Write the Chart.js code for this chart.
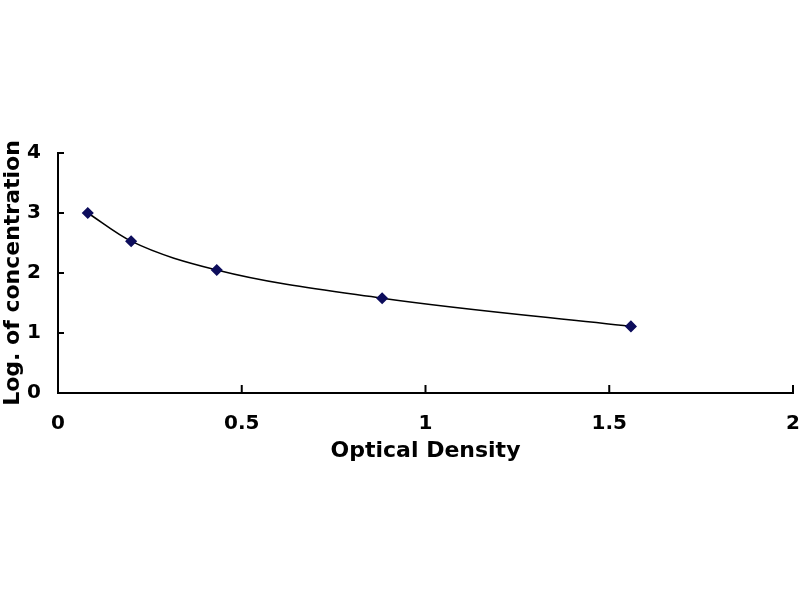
<!DOCTYPE html>
<html>
<head>
<meta charset="utf-8">
<script src="https://cdn.jsdelivr.net/npm/chart.js@4"></script>
<style>
  html, body { margin: 0; padding: 0; background: #fff; }
  canvas { display: block; }
</style>
</head>
<body>
<canvas id="grafica" width="800" height="600"></canvas>
<script>
// datos
const odValues = [0.081, 0.199, 0.432, 0.882, 1.559];
const logConc = [3.00, 2.53, 2.05, 1.58, 1.11];
const xTicks = [0, 0.5, 1, 1.5, 2];
const yTicks = [0, 1, 2, 3, 4];

const puntos = odValues.map((x, i) => ({ x: x, y: logConc[i] }));

// marcas de eje hacia dentro, como en Excel
const ticksInternos = {
    id: 'ticksInternos',
    afterDraw(chart) {
        const ctx = chart.ctx;
        const xs = chart.scales.x, ys = chart.scales.y;
        ctx.save();
        ctx.strokeStyle = '#000';
        ctx.lineWidth = 2;
        xTicks.forEach(v => {
            if (v === 0) return;
            const px = xs.getPixelForValue(v);
            ctx.beginPath();
            ctx.moveTo(px, ys.bottom);
            ctx.lineTo(px, ys.bottom - 8);
            ctx.stroke();
        });
        yTicks.forEach(v => {
            if (v === 0) return;
            const py = ys.getPixelForValue(v);
            ctx.beginPath();
            ctx.moveTo(xs.left, py);
            ctx.lineTo(xs.left + 6, py);
            ctx.stroke();
        });
        ctx.restore();
    }
};

const fuente = { family: '"DejaVu Sans", sans-serif', weight: 'bold', size: 20 };
const fuenteTitulo = { family: '"DejaVu Sans", sans-serif', weight: 'bold', size: 22 };

new Chart(document.getElementById('grafica'), {
    type: 'scatter',
    data: {
        datasets: [{
            data: puntos,
            showLine: true,
            borderColor: '#000',
            borderWidth: 1.5,
            cubicInterpolationMode: 'monotone',
            pointStyle: 'rectRot',
            pointRadius: 5,
            pointBackgroundColor: '#0d0d5c',
            pointBorderColor: '#0d0d5c'
        }]
    },
    options: {
        responsive: false,
        animation: false,
        layout: { padding: { top: 153, right: 7, bottom: 136, left: 0 } },
        plugins: { legend: { display: false }, tooltip: { enabled: false } },
        scales: {
            x: {
                type: 'linear',
                min: 0, max: 2,
                afterFit(s) { s.height = 71; s.paddingLeft = 0; s.paddingRight = 0; },
                afterBuildTicks(s) { s.ticks = xTicks.map(v => ({ value: v })); },
                grid: { display: false },
                border: { color: '#000', width: 2 },
                ticks: { color: '#000', font: fuente, padding: 11, callback: v => String(v) },
                title: { display: true, text: 'Optical Density', color: '#000', font: fuenteTitulo, padding: 0 }
            },
            y: {
                min: 0, max: 4,
                afterFit(s) { s.width = 58; s.paddingTop = 0; s.paddingBottom = 0; },
                afterBuildTicks(s) { s.ticks = yTicks.map(v => ({ value: v })); },
                grid: { display: false },
                border: { color: '#000', width: 2 },
                ticks: { color: '#000', font: fuente, padding: 9, callback: v => String(v) },
                title: { display: true, text: 'Log. of concentration', color: '#000', font: fuenteTitulo, padding: 0 }
            }
        }
    },
    plugins: [ticksInternos]
});
</script>
</body>
</html>
